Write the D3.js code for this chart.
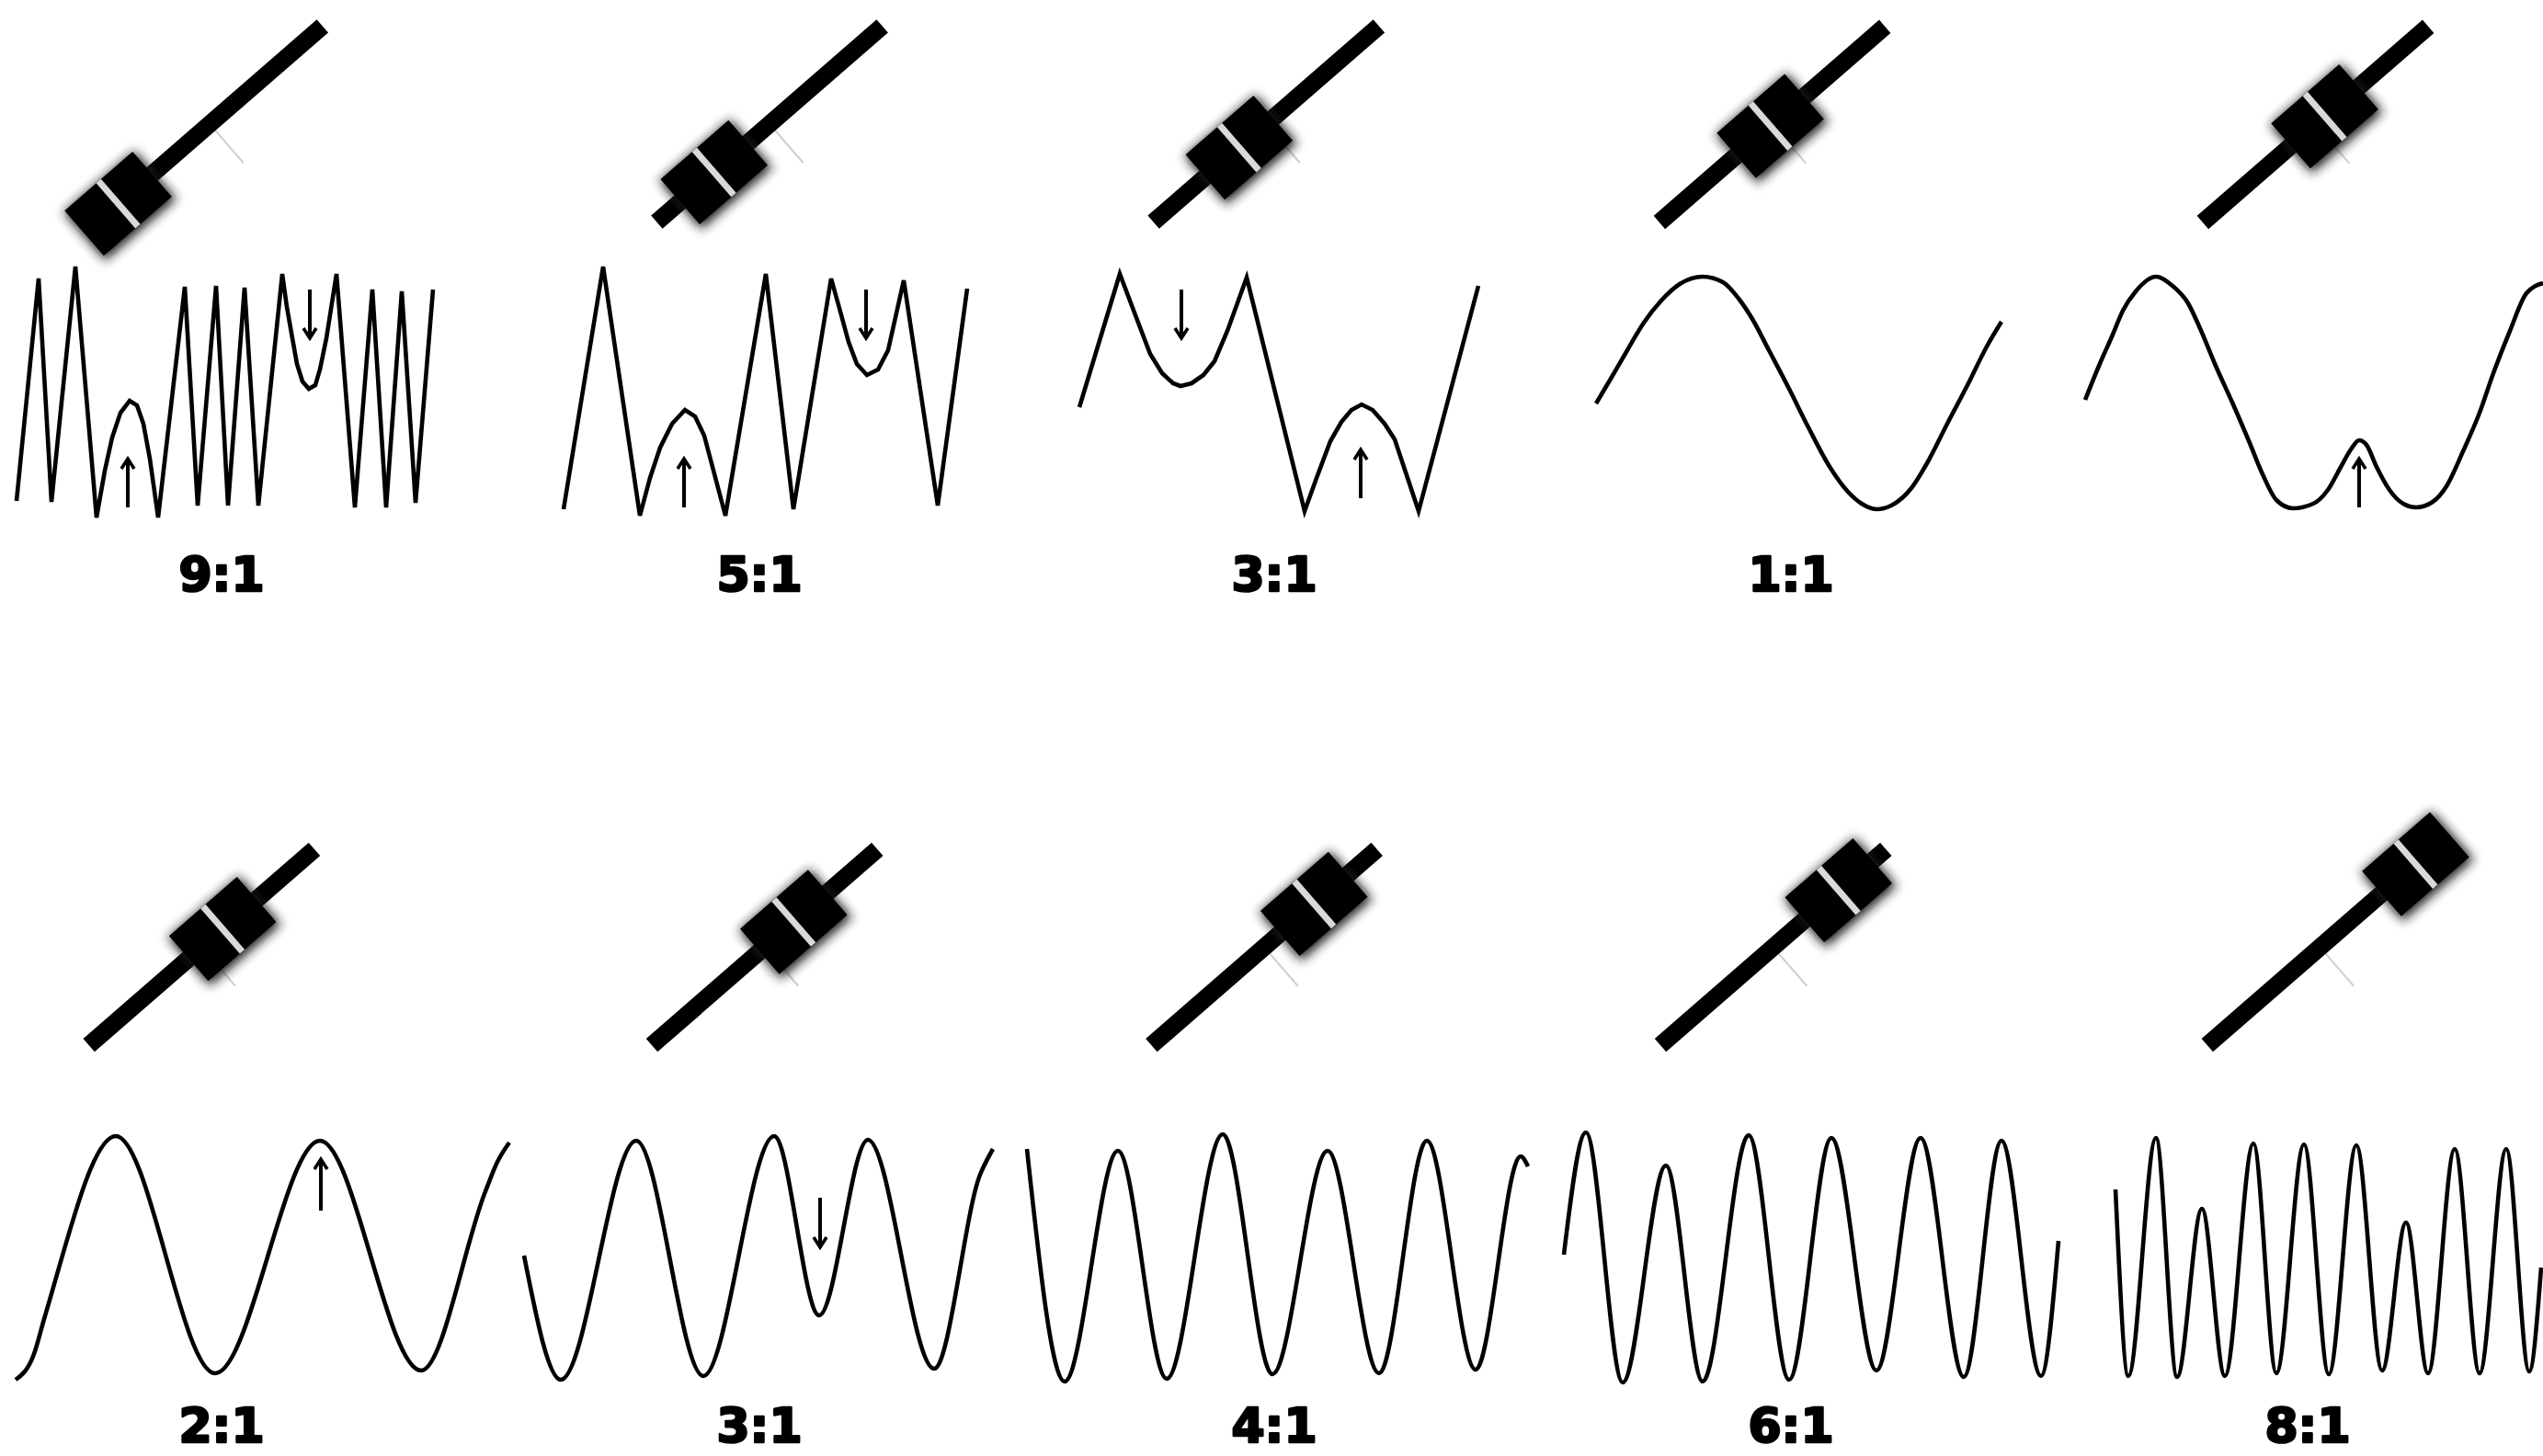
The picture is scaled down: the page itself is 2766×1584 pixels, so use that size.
<!DOCTYPE html>
<html><head><meta charset="utf-8">
<script src="https://cdn.jsdelivr.net/npm/d3@7"></script>
<style>html,body{margin:0;padding:0;background:#fff;} svg{display:block}</style>
</head><body>
<svg id="chart" width="2766" height="1584"></svg>
<script>
// ---------- DATA ----------
const ratioLabels = ["9:1","5:1","3:1","1:1","","2:1","3:1","4:1","6:1","8:1"];
// crossfader knob position along the slider (0 = left end, 1 = right end)
const knobPositions = [0.094,0.254,0.38,0.492,0.541,0.593,0.629,0.721,0.79,0.924];

// waveform samples: [time, amplitude]
const wave91 = [[18,-120],[42,122],[56,-121],[82,135],[105,-138],[114,-87],[122,-51],[131,-24],[141,-11],[149,-16],[156,-36],[163,-74],[172,-138],[201,113],[215,-125],[235,114],[248,-125],[266,112],[281,-125],[307,127],[312,91],[318,57],[323,29],[329,10],[336,2],[343,6],[348,23],[355,57],[366,127],[386,-127],[405,110],[420,-127],[437,108],[452,-122],[471,110]];
const wave51 = [[53,-129],[96,135],[136,-136],[147,-95],[158,-62],[171,-36],[185,-21],[196,-28],[206,-49],[215,-83],[229,-136],[273,127],[303,-129],[344,122],[354,86],[363,53],[372,29],[383,17],[395,23],[406,44],[423,120],[460,-125],[492,111]];
const wave31a = [[54,-18],[98,127],[115,82],[131,40],[144,19],[156,8],[164,5],[176,8],[189,17],[201,32],[215,65],[236,123],[299,-131],[312,-95],[327,-55],[339,-34],[350,-21],[361,-15],[373,-21],[386,-36],[397,-53],[409,-89],[423,-131],[488,114]];
const wave11 = [[56,-14],[72,13],[90,44],[108,74],[126,97],[147,116],[172,124],[194,118],[212,99],[226,78],[244,44],[266,2],[287,-40],[309,-81],[330,-110],[345,-123],[361,-129],[377,-125],[399,-106],[416,-79],[438,-36],[460,6],[481,48],[497,75]];
const waveMid = [[28,-10],[43,27],[58,61],[69,87],[83,108],[105,124],[123,114],[140,95],[152,70],[170,27],[189,-15],[207,-57],[221,-91],[236,-119],[254,-128],[276,-123],[292,-108],[305,-85],[317,-64],[326,-54],[334,-59],[345,-83],[359,-108],[374,-123],[388,-127],[406,-121],[421,-104],[439,-66],[457,-24],[472,19],[490,65],[508,106],[526,117]];
const wave21 = [[17,-133],[37,-105],[48,-67],[126,132],[234,-126],[348,127],[458,-123],[528,72],[541,104],[554,125]];
const wave31b = [[10,2],[50,-133],[132,127],[205,-129],[282,132],[331,-63],[384,128],[456,-121],[506,90],[520,118]];
const wave41 = [[-3,118],[38,-135],[96,116],[149,-132],[210,134],[264,-127],[324,116],[380,-126],[432,127],[485,-122],[534,110],[542,99]];
const wave61 = [[21,3],[45,136],[85,-136],[132,100],[172,-135],[222,133],[266,-133],[312,130],[361,-123],[409,130],[456,-130],[497,127],[540,-129],[559,18]];
const wave81 = [[61,74],[75,-129],[105,130],[128,-130],[155,53],[180,-129],[211,124],[236,-126],[266,123],[293,-127],[323,122],[351,-123],[377,38],[401,-126],[430,118],[457,-126],[486,118],[511,-124],[524,-11]];

// annotation arrows: [time, from amplitude, to amplitude]
const arrows91 = [[139,-127,-74],[337,110,57]];
const arrows51 = [[184,-127,-74],[382,110,57]];
const arrows31a = [[165,110,57],[360,-117,-64]];
const arrowsMid = [[326,-127,-74]];
const arrows21 = [[349,51,107]];
const arrows31b = [[332,65,11]];

const waves = [wave91,wave51,wave31a,wave11,waveMid,wave21,wave31b,wave41,wave61,wave81];
const arrowSets = [arrows91,arrows51,arrows31a,[],arrowsMid,arrows21,arrows31b,[],[],[]];
const sharpWave = [true,true,true,false,false,false,false,false,false,false];

// ---------- LAYOUT ----------
const colX0 = [0,560,1120,1680,2240];
const rowMid = [425,1368];
const labelBase = [643,1569];
const labelOffset = [241,266,266,268,270];
const faderBase = [[105.5,241.6],[154.4,241.6],[134.6,241.6],[124.9,242],[155.9,242],
                   [96.7,1137.1],[149,1137.1],[132.4,1137.1],[126,1137.1],[160.8,1137.1]];
const rodLen = 325, rodW = 19, rodAngle = -41;
const knobL = 98, knobS = 65;

const svg = d3.select("#chart");
const defs = svg.append("defs");
defs.append("filter").attr("id","soft").attr("x","-50%").attr("y","-50%").attr("width","200%").attr("height","200%")
  .append("feGaussianBlur").attr("stdDeviation",6);

for (let i = 0; i < 10; i++) {
  const row = i < 5 ? 0 : 1, col = i % 5;
  const x0 = colX0[col], mid = rowMid[row];
  const g = svg.append("g");
  const x = d3.scaleLinear().domain([0,560]).range([x0, x0+560]);
  const y = d3.scaleLinear().domain([-140,140]).range([mid+140, mid-140]);

  // fader
  const pos = d3.scaleLinear().domain([0,1]).range([0,rodLen]);
  const fg = g.append("g")
    .attr("transform",`translate(${x0+faderBase[i][0]},${faderBase[i][1]}) rotate(${rodAngle})`);
  fg.append("line").attr("x1",pos(0.5)).attr("y1",0).attr("x2",pos(0.5)).attr("y2",56)
    .attr("stroke","#cfcfcf").attr("stroke-width",2);
  fg.append("rect").attr("x",pos(0)).attr("y",-rodW/2).attr("width",pos(1)-pos(0)).attr("height",rodW).attr("fill","#000");
  const kc = pos(knobPositions[i]);
  fg.append("rect").attr("x",kc-knobL/2-2).attr("y",-knobS/2+1).attr("width",knobL+4).attr("height",knobS+4)
    .attr("fill","#1c1c1c").attr("filter","url(#soft)");
  fg.append("rect").attr("x",kc-knobL/2).attr("y",-knobS/2).attr("width",knobL).attr("height",knobS).attr("fill","#000");
  fg.append("rect").attr("x",kc-3.5).attr("y",-knobS/2).attr("width",7).attr("height",knobS).attr("fill","#d9d9d9");

  // waveform
  const line = d3.line().x(d=>x(d[0])).y(d=>y(d[1]))
    .curve(sharpWave[i] ? d3.curveLinear : d3.curveMonotoneX);
  g.append("path").datum(waves[i]).attr("d",line)
    .attr("fill","none").attr("stroke","#000").attr("stroke-width",4.6).attr("stroke-linejoin","miter");

  // arrows
  arrowSets[i].forEach(a => {
    const ax = x(a[0]), y0 = y(a[1]), y1 = y(a[2]);
    const dir = y1 < y0 ? 1 : -1;
    g.append("line").attr("x1",ax).attr("x2",ax).attr("y1",y0).attr("y2",y1+dir*2)
      .attr("stroke","#000").attr("stroke-width",4);
    g.append("path").attr("d",`M${ax-7},${y1+dir*11} L${ax},${y1} L${ax+7},${y1+dir*11}`)
      .attr("fill","none").attr("stroke","#000").attr("stroke-width",3.6);
  });

  // label
  if (ratioLabels[i]) {
    g.append("text").attr("x",x0+labelOffset[col]).attr("y",labelBase[row])
      .attr("text-anchor","middle").attr("font-family","'DejaVu Sans', sans-serif")
      .attr("font-weight",700).attr("font-size",52).attr("fill","#000")
      .attr("stroke","#000").attr("stroke-width",2.6).attr("stroke-linejoin","round")
      .text(ratioLabels[i]);
  }
}
</script>
</body></html>
